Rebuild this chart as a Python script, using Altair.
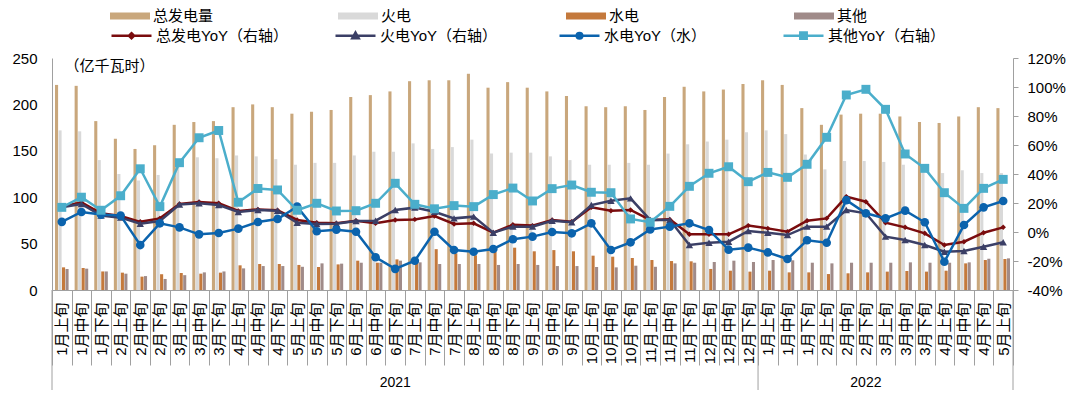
import altair as alt
import pandas as pd

FONT = "Liberation Sans, Noto Sans CJK SC, sans-serif"
GRAY = "#A0A0A0"

years = ["2021"] * 36 + ["2022"] * 13
periods = [f"{m}月{p}" for m in range(1, 13) for p in ["上旬", "中旬", "下旬"]] + \
          [f"{m}月{p}" for m in range(1, 5) for p in ["上旬", "中旬", "下旬"]] + ["5月上旬"]
keys = [f"{y}|{p}" for y, p in zip(years, periods)]

total = [221, 220, 182, 163, 152, 156, 178, 181, 182, 197, 200, 197, 190, 192, 194, 208, 210,
         214, 225, 226, 226, 233, 218, 224, 218, 214, 209, 198, 197, 198, 194, 208, 219, 214,
         216, 222, 226, 221, 196, 178, 189, 190, 190, 187, 181, 180, 187, 197, 196]
thermal = [172, 171, 140, 125, 118, 124, 140, 143, 142, 145, 144, 141, 135, 137, 137, 145, 149,
           149, 158, 152, 154, 162, 147, 148, 148, 144, 140, 135, 135, 137, 135, 147, 157, 160,
           162, 170, 172, 168, 146, 130, 139, 139, 138, 135, 127, 126, 129, 126, 126]
hydro = [24.4, 23.7, 20, 18.7, 14.4, 17, 18.3, 17.6, 18.7, 26.6, 28, 28, 27, 24.8, 27.6, 31.6,
         29.4, 33, 32, 44, 39.5, 37.4, 41.3, 45.6, 41.7, 43, 41.7, 37, 35.9, 34.5, 32.3, 31.2,
         30.9, 22.7, 20.8, 19.8, 20.8, 19, 19, 17.2, 18, 19, 19.8, 20.5, 19.8, 20.8, 28.7, 32.3, 33.4]
other = [22.6, 23, 20, 17.6, 15, 11.9, 16, 19, 20, 23.3, 25.8, 25.8, 25, 28.7, 28.4, 29.4, 29.4,
         31.6, 29.8, 28, 28, 28, 27, 28, 27, 25.8, 25.8, 24.8, 24.4, 26.2, 25, 28.7, 29.4, 30.2,
         31.6, 30.2, 32.3, 32, 29.4, 28.7, 29.4, 29.4, 29.4, 29.8, 29.4, 29.4, 29.8, 33.7, 34.1]

total_yoy = [17.5, 20.5, 12.9, 11, 7, 9.4, 19.3, 20.7, 19.8, 14.5, 15.6, 15, 8.3, 6.4, 6, 7.8, 6,
             8.3, 8.7, 11, 5.5, 6, -0.5, 5, 4.4, 8.3, 7, 17, 14.7, 15.2, 8.3, 8.7, -1.6, -1.6,
             -1.6, 4.4, 2.5, 0.2, 7.8, 9.4, 24.4, 20.9, 6.4, 3.2, -0.9, -9, -6.7, -0.5, 3.2]
thermal_yoy = [17, 19.3, 11.3, 9.9, 5.7, 7.6, 19, 19.8, 18.6, 13.8, 15.2, 14.7, 6.4, 5.5, 5.7,
               7.6, 7.8, 15.2, 16.8, 14, 9.4, 10.6, -0.5, 3.7, 3.7, 7.8, 6.7, 18.6, 21.6, 23.2,
               8.3, 8.3, -9, -7.4, -6.7, 0.7, -0.5, -2.1, 3.7, 3.7, 15.2, 12.9, -3.2, -5.5, -9,
               -13.6, -13.1, -10.2, -7.1]
hydro_yoy = [7, 13.8, 12, 11.3, -9, 6, 3.2, -1.6, -0.7, 2.3, 6.9, 9, 17.5, 0.5, 1.6, 0.2, -17.4,
             -25.4, -19.8, 0.2, -12.4, -13.6, -11.7, -5, -3.2, 0, -0.9, 6, -12.4, -7.1, 1.8, 3.7,
             6, 1.4, -12.2, -10.8, -14.1, -18.6, -5.7, -7.4, 22, 12.9, 9.4, 14.7, 6.7, -20.5,
             4.8, 17, 21.4]
other_yoy = [17, 24, 15, 25, 43.6, 17.5, 47.8, 65, 70, 20.5, 30, 29, 15, 19.8, 14.5, 14.7, 19.8,
             33.6, 19.1, 16, 18.2, 17.5, 25.8, 30.3, 21.4, 29.9, 32.4, 27.4, 27.1, 9, 6.7, 17.7,
             31.5, 40.5, 45, 34.7, 41.1, 37.7, 46.7, 65.3, 94.5, 98.4, 84.6, 53.8, 43.9, 27.1,
             16.3, 30.1, 36.3]

bar_names = ["总发电量", "火电", "水电", "其他"]
bar_colors = ["#C9A77C", "#D9D9D9", "#C4793C", "#A08B89"]
bar_values = [total, thermal, hydro, other]

line_names = ["总发电YoY（右轴）", "火电YoY（右轴）", "水电YoY（水）", "其他YoY（右轴）"]
line_colors = ["#7A0C0E", "#3B3F66", "#0B63AD", "#4BAECB"]
line_values = [total_yoy, thermal_yoy, hydro_yoy, other_yoy]
point_shapes = ["diamond", "triangle-up", "circle", "square"]
point_sizes = [30, 55, 75, 80]
legend_paths = [
    "M-1,0H1M0,-0.13L0.13,0L0,0.13L-0.13,0Z",
    "M-1,0H1M0,-0.16L0.16,0.12L-0.16,0.12Z",
    "M-1,0H1M-0.14,0A0.14,0.14 0 1,0 0.14,0A0.14,0.14 0 1,0 -0.14,0Z",
    "M-1,0H1M-0.16,-0.16H0.16V0.16H-0.16Z",
]

bar_df = pd.DataFrame([
    {"key": k, "series": n, "value": v}
    for n, vals in zip(bar_names, bar_values) for k, v in zip(keys, vals)
])
line_df = pd.DataFrame([
    {"key": k, "series": n, "value": v}
    for n, vals in zip(line_names, line_values) for k, v in zip(keys, vals)
])

W, H = 961, 232

x_scale = alt.Scale(domain=keys, paddingInner=0, paddingOuter=0)
x_axis = alt.Axis(
    labelExpr="split(datum.value, '|')[1]", labelAngle=270, labelFontSize=15,
    labelFont=FONT, labelColor="#000000", tickBand="extent", tickSize=75,
    tickColor=GRAY, domainColor=GRAY, labelPadding=-63, labelOverlap=False,
    grid=False,
)
x = alt.X("key:N", sort=keys, title=None, scale=x_scale, axis=x_axis)

bars = alt.Chart(bar_df).mark_bar().encode(
    x=x,
    xOffset=alt.XOffset("series:N", sort=bar_names,
                        scale=alt.Scale(domain=bar_names, paddingInner=0.12, paddingOuter=0.86)),
    y=alt.Y("value:Q", scale=alt.Scale(domain=[0, 250]),
            axis=alt.Axis(values=[0, 50, 100, 150, 200, 250], ticks=False, tickSize=0,
                          labelPadding=15, grid=False, domainColor=GRAY, labelFontSize=15,
                          labelFont=FONT, labelColor="#000000",
                          title="（亿千瓦时）", titleAngle=0, titleX=12, titleY=7,
                          titleAlign="left", titleBaseline="middle", titleFontWeight="normal",
                          titleFontSize=15, titleFont=FONT, titleColor="#000000")),
    color=alt.Color("series:N", scale=alt.Scale(domain=bar_names, range=bar_colors),
                    legend=alt.Legend(orient="none", legendX=58, legendY=-62,
                                      direction="horizontal", columns=4, title=None,
                                      symbolType="M-1,-0.18H1V0.18H-1Z",
                                      symbolSize=1600, symbolStrokeWidth=0, labelFontSize=15,
                                      labelFont=FONT, labelColor="#000000", labelOffset=3,
                                      gridAlign="all", columnPadding=124, padding=0,
                                      symbolOpacity=1)),
)

yR = alt.Y("value:Q", scale=alt.Scale(domain=[-40, 120]),
           axis=alt.Axis(orient="right", values=[-40, -20, 0, 20, 40, 60, 80, 100, 120],
                         labelExpr="datum.value + '%'", tickSize=5, labelPadding=9, grid=False,
                         domainColor=GRAY, tickColor=GRAY, labelFontSize=15, labelFont=FONT,
                         labelColor="#000000", title=None))

line_legend = alt.Legend(
    orient="none", legendX=58, legendY=-44, direction="horizontal", columns=4, title=None,
    symbolSize=1600, symbolStrokeWidth=2.5, labelFontSize=15,
    labelFont=FONT, labelColor="#000000", labelOffset=3, gridAlign="all",
    padding=0, symbolOpacity=1,
)

# invisible layer that only carries the legend for the YoY lines
legend_layer = alt.Chart(line_df).mark_point(opacity=0, filled=True, size=1600,
                                             strokeWidth=2.5).encode(
    x=x, y=yR,
    fill=alt.Fill("series:N", scale=alt.Scale(domain=line_names, range=line_colors),
                  legend=line_legend),
    stroke=alt.Stroke("series:N", scale=alt.Scale(domain=line_names, range=line_colors),
                      legend=line_legend),
    shape=alt.Shape("series:N", scale=alt.Scale(domain=line_names, range=legend_paths),
                    legend=line_legend),
)

line_layers = [legend_layer]
for n, c, shp, sz in zip(line_names, line_colors, point_shapes, point_sizes):
    sub = line_df[line_df["series"] == n]
    ln = alt.Chart(sub).mark_line(strokeWidth=2.5, color=c).encode(x=x, y=yR)
    pt = alt.Chart(sub).mark_point(shape=shp, size=sz, filled=True, color=c, opacity=1).encode(
        x=x, y=yR)
    line_layers += [ln, pt]

lines = alt.layer(*line_layers)

sep_df = pd.DataFrame({"key": [keys[0], keys[36]]})
end_df = pd.DataFrame({"key": [keys[48]]})
sep_rules = alt.Chart(sep_df).mark_rule(color=GRAY, strokeWidth=1).encode(
    x=alt.X("key:N", sort=keys, title=None, bandPosition=0, scale=x_scale, axis=x_axis),
    y=alt.value(H), y2=alt.value(H + 100))
end_rules = alt.Chart(end_df).mark_rule(color=GRAY, strokeWidth=1).encode(
    x=alt.X("key:N", sort=keys, title=None, bandPosition=1, scale=x_scale, axis=x_axis),
    y=alt.value(H), y2=alt.value(H + 100))

year_df = pd.DataFrame({"key": [keys[17], keys[41]], "year": ["2021", "2022"]})
year_text = alt.Chart(year_df).mark_text(fontSize=14, font=FONT, color="#000000",
                                         baseline="middle", align="center").encode(
    x=x, y=alt.value(H + 93), text="year:N")

chart = alt.layer(bars, lines, sep_rules, end_rules, year_text).resolve_scale(
    y="independent"
).properties(
    width=W, height=H,
    autosize=alt.AutoSizeParams(type="none"),
    padding={"left": 44, "top": 50, "right": 59, "bottom": 105},
    background="white",
).configure_view(stroke=None).configure_legend(columnPadding=42, gridAlign="all")

chart.save("out.html", embed_options={"renderer": "svg", "actions": False})
